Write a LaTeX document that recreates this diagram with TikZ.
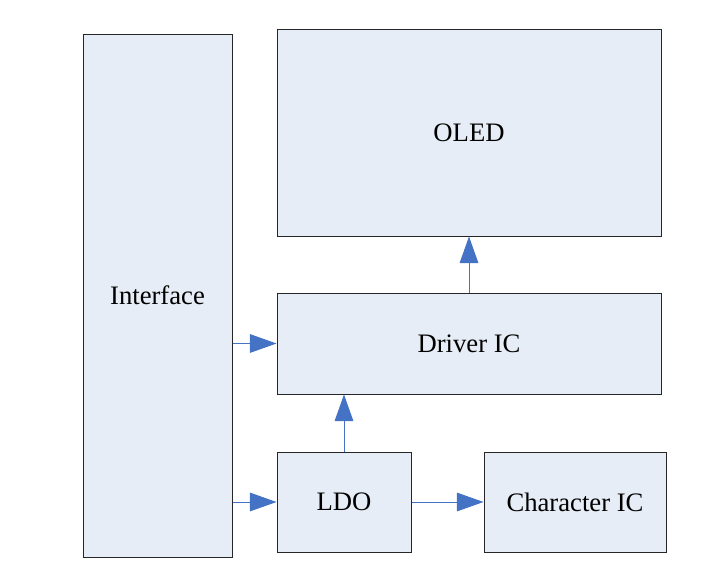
\documentclass[tikz,border=0pt]{standalone}
\usepackage{fontspec}
\setmainfont{Liberation Serif}
\usetikzlibrary{arrows.meta}
\definecolor{boxfill}{HTML}{E7EDF6}
\definecolor{arrowblue}{HTML}{4472C4}
\begin{document}
\begin{tikzpicture}[x=0.75pt,y=-0.75pt,
	block/.style={draw=black!85, fill=boxfill, line width=0.75pt, inner sep=0pt, font=\fontsize{20}{24}\selectfont},
	flow/.style={draw=arrowblue, line width=0.75pt, -{Triangle[length=20pt,width=14pt]}, arrowblue}]
	\useasboundingbox (0,0) rectangle (719,582);
	%blokkok
	\node [block, minimum width=111.75pt, minimum height=392.25pt] (interface) at (157.5,295.5) {Interface};
	\node [block, minimum width=288pt, minimum height=155.25pt] (oled) at (469,132.5) {OLED};
	\node [block, minimum width=288pt, minimum height=75.75pt] (driver) at (469,343.5) {Driver IC};
	\node [block, minimum width=100.5pt, minimum height=75pt] (ldo) at (344,502) {LDO};
	\node [block, minimum width=136.5pt, minimum height=75pt] (charic) at (575,502) {Character IC};
	%nyilak
	\draw [flow] (interface.east |- driver.west) -- (driver.west);
	\draw [flow] (interface.east |- ldo.west) -- (ldo.west);
	\draw [flow] (driver.north) -- (oled.south);
	\draw [flow] (ldo.north) -- (ldo.north |- driver.south);
	\draw [flow] (ldo.east) -- (charic.west);
\end{tikzpicture}
\end{document}
